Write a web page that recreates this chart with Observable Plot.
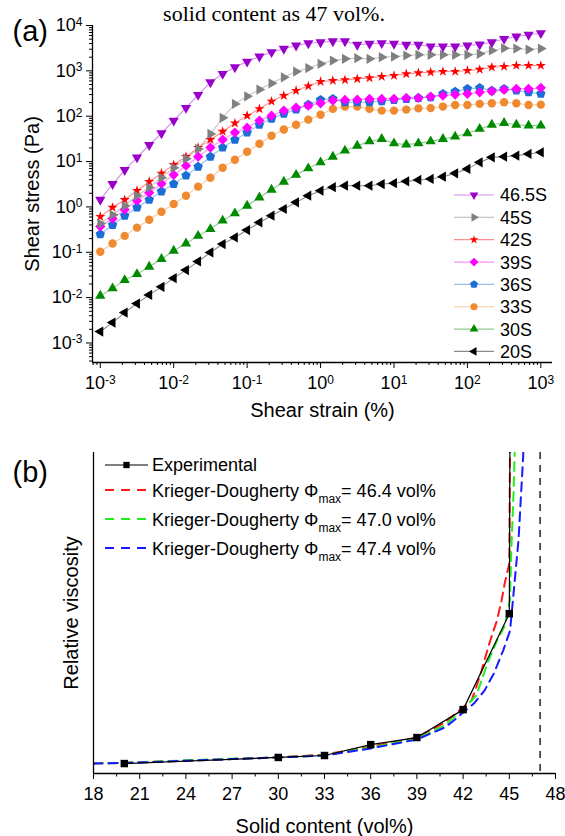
<!DOCTYPE html>
<html><head><meta charset="utf-8">
<script src="https://cdn.jsdelivr.net/npm/d3@7"></script>
<script src="https://cdn.jsdelivr.net/npm/@observablehq/plot@0.6"></script>
<style>
html,body{margin:0;padding:0;background:#fff;}
#wrap{position:relative;width:565px;height:836px;overflow:hidden;font-family:'Liberation Sans',Arial,sans-serif;}
#wrap > svg{position:absolute;left:0;margin:0;}
</style></head><body><div id="wrap"></div>
<script>
// ---------- Panel (a) data ----------
const strain = [0.001,0.00147,0.00215,0.00316,0.00464,0.00681,0.01,0.0147,0.0215,0.0316,0.0464,0.0681,0.1,0.147,0.215,0.316,0.464,0.681,1,1.47,2.15,3.16,4.64,6.81,10,14.7,21.5,31.6,46.4,68.1,100,147,215,316,464,681,1000];
const stress465 = [1.44,3.2,6.5,12.4,23.2,42,80,152,295,560,859,1200,1600,2070,2580,3060,3620,4050,4280,4500,4500,3750,3950,4070,3950,3750,3750,3440,3440,3440,3620,3810,4280,5080,5720,6240,6760];
const stress45 = [0.43,0.67,1.06,1.77,2.69,4.4,7.3,11.6,19,40.6,92,187,275,386,532,722,966,1150,1430,1690,1840,1900,1840,2000,2070,2180,2260,2260,2260,2260,2260,2370,2810,3150,3100,2950,3100];
const stress42 = [0.61,0.97,1.44,2.28,3.6,5.5,8.5,12.8,20.3,30.4,46,70,103,145,213,285,367,462,580,611,633,666,700,748,787,859,903,931,966,966,1016,1070,1200,1245,1310,1310,1310];
const stress39 = [0.37,0.55,0.87,1.37,2.06,3.25,5.1,8.1,12.8,20.3,30.4,43.5,56,80,103,133,155,171,193,221,229,232,241,241,241,253,253,271,285,300,311,337,355,381,401,401,422];
const stress36 = [0.25,0.40,0.64,0.97,1.44,2.2,3.2,4.9,7.7,12.8,20.3,30.4,43.5,65,88,114,140,180,229,241,203,203,203,213,229,241,253,261,311,349,401,422,367,401,367,337,311];
const stress33 = [0.103,0.156,0.23,0.35,0.52,0.78,1.16,1.77,2.8,4.4,7.3,11,16.5,24.8,37,51,65,84,108,145,163,163,145,133,133,140,149,151,163,177,177,187,193,203,193,177,180];
const stress30 = [0.011,0.016,0.0243,0.033,0.048,0.071,0.108,0.156,0.23,0.325,0.50,0.72,1.06,1.62,2.4,3.6,5.1,7.1,9.6,12.8,17.4,22.4,27.9,31.5,25.2,23.6,25.2,27.9,31.5,35.5,42,52.5,65,71,65,62,62];
const stress20 = [0.00179,0.00282,0.00469,0.0074,0.0115,0.0173,0.0269,0.0405,0.0627,0.099,0.152,0.212,0.309,0.455,0.64,0.90,1.26,1.77,2.28,2.72,2.94,2.94,2.94,3.2,3.33,3.66,3.93,4.13,4.64,5.5,6.9,9.6,12.4,12.8,13.5,14.7,16];
const seriesLabels = ["46.5S","45S","42S","39S","36S","33S","30S","20S"];
const seriesValues = [stress465,stress45,stress42,stress39,stress36,stress33,stress30,stress20];
const strainTicks = [0.001,0.01,0.1,1,10,100,1000];
const stressTicks = [0.001,0.01,0.1,1,10,100,1000,10000];

// ---------- Panel (b) data ----------
const solidExp = [20,30,33,36,39,42,45,46.5];
const viscExp  = [3.1,5.0,5.6,9.0,11.2,19.9,49.8,2000];
const kd464Solid = [18,21,24,27,30,33,36,39,40.8,42,42.55,42.85,43.2,43.7,44.2,44.5,44.7,45.0,45.05];
const kd464Visc  = [3.1,3.5,4.0,4.5,5.0,5.9,8.4,11.2,15.9,20.6,22.7,26.8,32.1,40.5,47.7,53.9,59.2,65.4,105];
const kd470Solid = [18,21,24,27,30,33,36,39,40.8,42,42.85,43.2,43.6,44.2,44.7,45.04,45.13,45.28,45.35,45.37];
const kd470Visc  = [3.1,3.5,4.1,4.6,5.0,5.7,8.1,10.9,15.0,19.9,24.3,29.0,34.6,41.4,46.0,54,69.5,88,100,105];
const kd474Solid = [18,21,24,27,30,33,36,39,40.8,41.4,42,42.7,43.4,44.0,44.6,45.05,45.3,45.6,45.9,45.95];
const kd474Visc  = [3.1,3.4,4.0,4.5,5.0,5.6,7.8,10.6,14.3,16.5,19.0,21.8,25.9,31.2,38.3,44.5,57.3,72.9,98.7,105];
const boundarySolid = [47];
const solidTicks = [18,21,24,27,30,33,36,39,42,45,48];
const kdLabels = ["46.4","47.0","47.4"];

// ---------- symbols ----------
function regPoly(n, startDeg) {
  return { draw(ctx, size) {
    const R = Math.sqrt(2 * size / (n * Math.sin(2 * Math.PI / n)));
    for (let k = 0; k < n; k++) {
      const a = (startDeg + k * 360 / n) * Math.PI / 180;
      const px = R * Math.cos(a), py = R * Math.sin(a);
      if (k) ctx.lineTo(px, py); else ctx.moveTo(px, py);
    }
    ctx.closePath();
  }};
}
const triDown = regPoly(3, 90), triRight = regPoly(3, 0), triLeft = regPoly(3, 180), triUp = regPoly(3, -90);
const pentagon = regPoly(5, -90), diamond = regPoly(4, -90);
const seriesSymbols = [triDown, triRight, d3.symbolStar, diamond, pentagon, d3.symbolCircle, triUp, triLeft];
const seriesR = [3.8, 3.8, 3.2, 4.1, 4.3, 4.2, 3.8, 3.8];
const seriesColors = ["#9a00cc","#808080","#ff0000","#ff00ff","#1a6fd6","#f08a30","#008a00","#000000"];

const font = "'Liberation Sans', Arial, sans-serif";
const fmtPow = d => "10^" + Math.round(Math.log10(d));
function minorLog(lo, hi) {
  const out = [];
  for (let k = -4; k <= 4; k++) for (let m = 2; m <= 9; m++) { const v = m * Math.pow(10, k); if (v > lo && v < hi) out.push(v); }
  return out;
}
function supLabels(svg) {
  d3.select(svg).selectAll("text").each(function() {
    const m = /^10\^(-?\d+)$/.exec(this.textContent);
    if (!m) return;
    const t = d3.select(this);
    t.text("");
    t.append("tspan").text("10");
    t.append("tspan").attr("dy", "-0.45em").attr("font-size", "12px").text(m[1]);
  });
}

const wrap = document.getElementById("wrap");

// ---------- Panel (a) ----------
const xDomA = [Math.pow(10, -3.106), Math.pow(10, 3.159)];
const yDomA = [Math.pow(10, -3.43), Math.pow(10, 4)];
const order = [7, 6, 5, 4, 3, 2, 1, 0];
const rowsA = seriesValues.map(vals => strain.map((s, i) => ({x: s, y: vals[i]})));

const plotA = Plot.plot({
  width: 565, height: 420,
  marginLeft: 92, marginRight: 13, marginTop: 25, marginBottom: 58,
  style: {fontFamily: font, fontSize: "18px", color: "#000", background: "transparent", overflow: "visible"},
  x: {type: "log", domain: xDomA},
  y: {type: "log", domain: yDomA},
  marks: [
    ...order.map(i => Plot.line(rowsA[i], {x: "x", y: "y", stroke: seriesColors[i], strokeOpacity: 0.45, strokeWidth: 1.1})),
    ...order.map(i => Plot.dot(rowsA[i], {x: "x", y: "y", symbol: seriesSymbols[i], r: seriesR[i], fill: seriesColors[i], stroke: "none"})),
    Plot.ruleX([xDomA[0]], {stroke: "#000", strokeWidth: 1.3}),
    Plot.ruleY([yDomA[0]], {stroke: "#000", strokeWidth: 1.3}),
    Plot.axisX({ticks: strainTicks, tickSize: 6, tickPadding: 8, tickFormat: fmtPow, label: null, fontSize: 18}),
    Plot.axisX({ticks: minorLog(xDomA[0], xDomA[1]), tickSize: 3, tickFormat: () => "", label: null}),
    Plot.axisY({ticks: stressTicks, tickSize: 6, tickPadding: 4, tickFormat: fmtPow, label: null, fontSize: 18}),
    Plot.axisY({ticks: minorLog(yDomA[0], yDomA[1]), tickSize: 3, tickFormat: () => "", label: null}),
    Plot.text(["Shear strain (%)"], {text: d => d, frameAnchor: "bottom", textAnchor: "middle", lineAnchor: "middle", dy: 48, fontSize: 20}),
    Plot.text(["Shear stress (Pa)"], {text: d => d, frameAnchor: "left", textAnchor: "middle", lineAnchor: "middle", dx: -60, rotate: -90, fontSize: 20}),
    Plot.text(["(a)"], {text: d => d, frameAnchor: "top-left", textAnchor: "start", lineAnchor: "middle", dx: -80, dy: 6, fontSize: 29})
  ]
});
supLabels(plotA);
plotA.style.top = "0px";
wrap.appendChild(plotA);

// ---------- Panel (b) ----------
const rows = (xs, ys) => xs.map((x, i) => ({x, y: ys[i]}));
const plotB = Plot.plot({
  width: 565, height: 416,
  marginLeft: 93, marginRight: 10, marginTop: 32, marginBottom: 63,
  style: {fontFamily: font, fontSize: "18px", color: "#000", background: "transparent", overflow: "visible"},
  x: {domain: [18, 48]},
  y: {domain: [0, 100], axis: null},
  marks: [
    Plot.ruleX(boundarySolid, {stroke: "#222", strokeWidth: 1.5, strokeDasharray: "7,6"}),
    Plot.line(rows(kd464Solid, kd464Visc), {x: "x", y: "y", stroke: "#ff1a1a", strokeWidth: 2, strokeDasharray: "9,6", clip: true}),
    Plot.line(rows(kd470Solid, kd470Visc), {x: "x", y: "y", stroke: "#22ee22", strokeWidth: 2, strokeDasharray: "9,6", clip: true}),
    Plot.line(rows(kd474Solid, kd474Visc), {x: "x", y: "y", stroke: "#1a1aff", strokeWidth: 2, strokeDasharray: "9,6", clip: true}),
    Plot.line(rows(solidExp, viscExp), {x: "x", y: "y", stroke: "#000", strokeWidth: 1.2, clip: true}),
    Plot.dot(rows(solidExp, viscExp), {x: "x", y: "y", symbol: "square", r: 4.2, fill: "#000", stroke: "none", clip: true}),
    Plot.ruleX([18], {stroke: "#000", strokeWidth: 1.3}),
    Plot.ruleY([0], {stroke: "#000", strokeWidth: 1.3}),
    Plot.axisX({ticks: solidTicks, tickSize: 6, tickPadding: 8, label: null, fontSize: 18}),
    Plot.axisX({ticks: solidTicks.slice(0, -1).map(t => t + 1.5), tickSize: 3.5, tickFormat: () => "", label: null}),
    Plot.text(["Solid content (vol%)"], {text: d => d, frameAnchor: "bottom", textAnchor: "middle", lineAnchor: "middle", dy: 53, fontSize: 20}),
    Plot.text(["Relative viscosity"], {text: d => d, frameAnchor: "left", textAnchor: "middle", lineAnchor: "middle", dx: -22, rotate: -90, fontSize: 20}),
    Plot.text(["(b)"], {text: d => d, frameAnchor: "top-left", textAnchor: "start", lineAnchor: "middle", dx: -81, dy: 20, fontSize: 29})
  ]
});
plotB.style.top = "420px";
wrap.appendChild(plotB);

// ---------- overlay: caption + legends ----------
const ov = d3.select(wrap).append("svg")
  .attr("width", 565).attr("height", 836)
  .style("position", "absolute").style("left", "0px").style("top", "0px")
  .style("pointer-events", "none").attr("font-family", font);

ov.append("text").attr("x", 274).attr("y", 21).attr("text-anchor", "middle")
  .attr("font-family", "'Liberation Serif', 'Times New Roman', serif").attr("font-size", 22)
  .text("solid content as 47 vol%.");

// legend (a)
seriesLabels.forEach((lab, i) => {
  const y = 195 + i * 22.35;
  ov.append("line").attr("x1", 454).attr("x2", 494).attr("y1", y).attr("y2", y)
    .attr("stroke", seriesColors[i]).attr("stroke-opacity", 0.45).attr("stroke-width", 1.2);
  ov.append("path").attr("transform", `translate(474,${y})`)
    .attr("d", d3.symbol(seriesSymbols[i], Math.PI * Math.pow(seriesR[i] * 0.85, 2))())
    .attr("fill", seriesColors[i]);
  ov.append("text").attr("x", 500).attr("y", y).attr("dy", "0.36em").attr("font-size", 18).text(lab);
});

// legend (b)
ov.append("line").attr("x1", 105).attr("x2", 148).attr("y1", 465).attr("y2", 465).attr("stroke", "#000").attr("stroke-width", 1.2);
ov.append("path").attr("transform", "translate(126.5,465)").attr("d", d3.symbol(d3.symbolSquare, 40)()).attr("fill", "#000");
ov.append("text").attr("x", 152).attr("y", 471).attr("font-size", 18).text("Experimental");
const kdColors = ["#ff1a1a", "#22ee22", "#1a1aff"];
const kdRowsY = [490, 519, 548];
kdLabels.forEach((v, i) => {
  const y = kdRowsY[i];
  ov.append("line").attr("x1", 105).attr("x2", 148).attr("y1", y).attr("y2", y)
    .attr("stroke", kdColors[i]).attr("stroke-width", 2).attr("stroke-dasharray", "9,7");
  const t = ov.append("text").attr("x", 152).attr("y", y + 6.5).attr("font-size", 18);
  t.append("tspan").text("Krieger-Dougherty Φ");
  t.append("tspan").attr("dy", 6).attr("font-size", 12).text("max");
  t.append("tspan").attr("dy", -6).text("= " + v + " vol%");
});
</script></body></html>
